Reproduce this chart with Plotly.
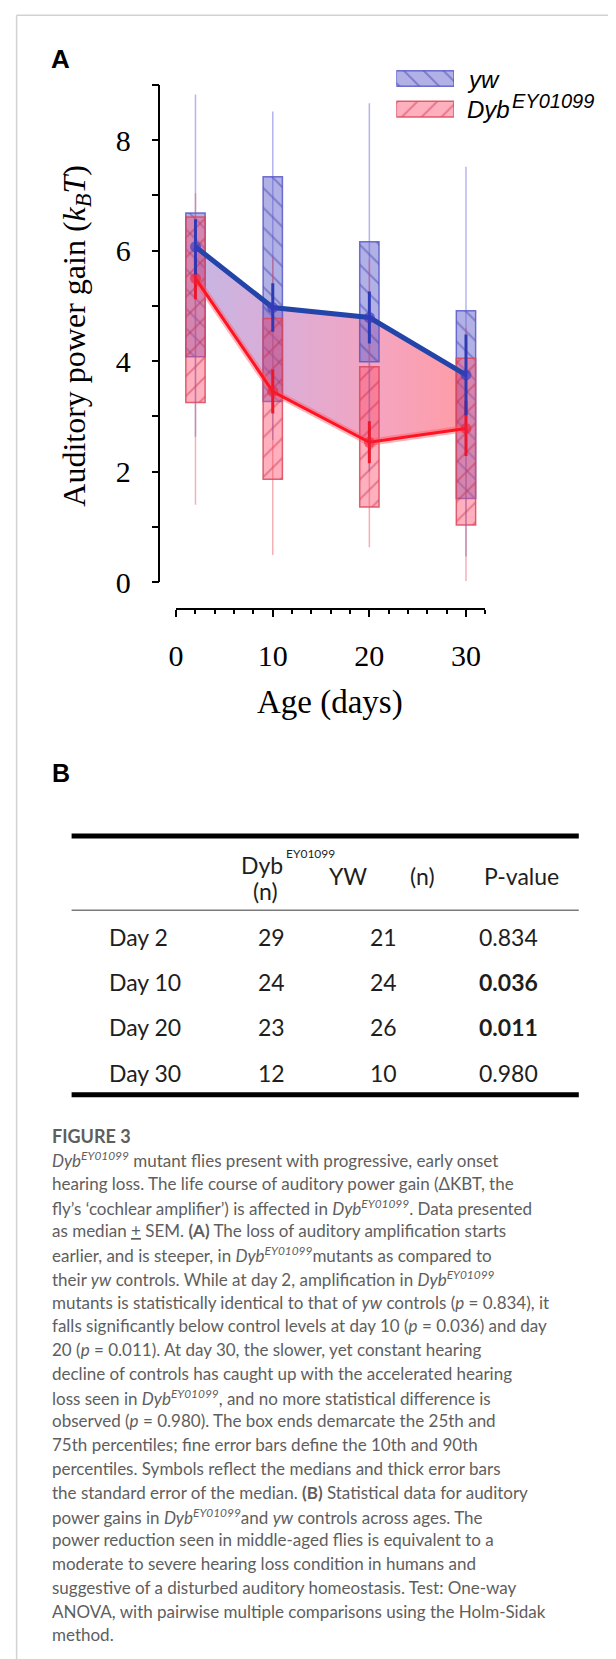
import plotly.graph_objects as go

W, H = 616, 1659

# ---------------- data ----------------
days = [2, 10, 20, 30]

yw_p10 = [2.63, 2.57, 2.00, 0.46]
yw_q25 = [4.08, 3.27, 3.99, 1.51]
yw_med = [6.07, 4.97, 4.79, 3.75]
yw_q75 = [6.68, 7.34, 6.16, 4.91]
yw_p90 = [8.83, 8.52, 8.67, 7.52]
yw_sem = [0.50, 0.44, 0.47, 0.73]

dyb_p10 = [1.40, 0.49, 0.63, 0.02]
dyb_q25 = [3.25, 1.86, 1.36, 1.03]
dyb_med = [5.50, 3.45, 2.53, 2.78]
dyb_q75 = [6.61, 4.77, 3.90, 4.05]
dyb_p90 = [7.04, 5.89, 5.84, 4.60]
dyb_sem = [0.38, 0.40, 0.38, 0.50]

series_names = ["yw", "Dyb"]

table_rows = ["Day 2", "Day 10", "Day 20", "Day 30"]
table_dyb_n = [29, 24, 23, 12]
table_yw_n = [21, 24, 26, 10]
table_p = ["0.834", "0.036", "0.011", "0.980"]
table_sig = [False, True, True, False]

caption_lines = [
    "<i>Dyb<sup>EY01099</sup></i> mutant flies present with progressive, early onset",
    "hearing loss. The life course of auditory power gain (ΔKBT, the",
    "fly’s ‘cochlear amplifier’) is affected in <i>Dyb<sup>EY01099</sup></i>. Data presented",
    "as median <u>+</u> SEM. <b>(A)</b> The loss of auditory amplification starts",
    "earlier, and is steeper, in <i>Dyb<sup>EY01099</sup></i>mutants as compared to",
    "their <i>yw</i> controls. While at day 2, amplification in <i>Dyb<sup>EY01099</sup></i>",
    "mutants is statistically identical to that of <i>yw</i> controls (<i>p</i> = 0.834), it",
    "falls significantly below control levels at day 10 (<i>p</i> = 0.036) and day",
    "20 (<i>p</i> = 0.011). At day 30, the slower, yet constant hearing",
    "decline of controls has caught up with the accelerated hearing",
    "loss seen in <i>Dyb<sup>EY01099</sup></i>, and no more statistical difference is",
    "observed (<i>p</i> = 0.980). The box ends demarcate the 25th and",
    "75th percentiles; fine error bars define the 10th and 90th",
    "percentiles. Symbols reflect the medians and thick error bars",
    "the standard error of the median. <b>(B)</b> Statistical data for auditory",
    "power gains in <i>Dyb<sup>EY01099</sup></i>and <i>yw</i> controls across ages. The",
    "power reduction seen in middle-aged flies is equivalent to a",
    "moderate to severe hearing loss condition in humans and",
    "suggestive of a disturbed auditory homeostasis. Test: One-way",
    "ANOVA, with pairwise multiple comparisons using the Holm-Sidak",
    "method.",
]

# ---------------- helpers ----------------
def px(xp):
    return xp / W


def py(yp):
    return 1 - yp / H


def segments(xs, lo, hi):
    X, Y = [], []
    for x, a, b in zip(xs, lo, hi):
        X += [x, x, None]
        Y += [a, b, None]
    return X, Y


SERIF = "Liberation Serif"
SANS = "Liberation Sans"
TABF = "Lato"

BLUE_LINE = "rgb(35,68,168)"
RED_LINE = "rgb(255,20,35)"

fig = go.Figure()

# ---- gradient fill between median curves (base subplot) ----
fig.add_trace(go.Scatter(x=days, y=dyb_med, mode="lines", line=dict(width=0),
                         showlegend=False, hoverinfo="skip"))
fig.add_trace(go.Scatter(
    x=days, y=yw_med, mode="lines", line=dict(width=0), fill="tonexty",
    fillgradient=dict(type="horizontal", colorscale=[
        [0, "rgb(198,182,228)"], [0.35, "rgb(222,172,212)"],
        [0.7, "rgb(245,164,190)"], [1, "rgb(255,156,165)"]]),
    showlegend=False, hoverinfo="skip"))

# ---- boxes (overlay subplot) ----
blue_marker = dict(color="rgba(100,100,205,0.5)",
                   line=dict(color="rgba(80,80,200,0.8)", width=1.5),
                   pattern=dict(shape="\\", fgcolor="rgba(55,55,165,0.85)", size=14,
                                solidity=0.14, fillmode="overlay"))
red_marker = dict(color="rgba(255,80,110,0.45)",
                  line=dict(color="rgba(220,70,90,0.85)", width=1.5),
                  pattern=dict(shape="/", fgcolor="rgba(195,35,60,0.8)", size=14,
                               solidity=0.14, fillmode="overlay"))

fig.add_trace(go.Bar(x=days, y=[b - a for a, b in zip(yw_q25, yw_q75)], base=yw_q25,
                     width=2, marker=blue_marker, xaxis="x3", yaxis="y3",
                     showlegend=False, hoverinfo="skip"))
fig.add_trace(go.Bar(x=days, y=[b - a for a, b in zip(dyb_q25, dyb_q75)], base=dyb_q25,
                     width=2, marker=red_marker, xaxis="x3", yaxis="y3",
                     showlegend=False, hoverinfo="skip"))

# ---- 10th/90th percentile whiskers ----
wx, wy = segments(days, yw_p10, yw_p90)
fig.add_trace(go.Scatter(x=wx, y=wy, mode="lines",
                         line=dict(color="rgba(90,90,210,0.45)", width=1.5),
                         xaxis="x3", yaxis="y3", showlegend=False, hoverinfo="skip"))
wx, wy = segments(days, dyb_p10, dyb_p90)
fig.add_trace(go.Scatter(x=wx, y=wy, mode="lines",
                         line=dict(color="rgba(230,80,95,0.45)", width=1.5),
                         xaxis="x3", yaxis="y3", showlegend=False, hoverinfo="skip"))

# ---- median lines ----
fig.add_trace(go.Scatter(x=days, y=dyb_med, mode="lines",
                         line=dict(color="rgba(255,90,100,0.45)", width=7),
                         xaxis="x3", yaxis="y3", showlegend=False, hoverinfo="skip"))
fig.add_trace(go.Scatter(x=days, y=dyb_med, mode="lines",
                         line=dict(color=RED_LINE, width=3),
                         xaxis="x3", yaxis="y3", showlegend=False, hoverinfo="skip"))
fig.add_trace(go.Scatter(x=days, y=yw_med, mode="lines",
                         line=dict(color=BLUE_LINE, width=5),
                         xaxis="x3", yaxis="y3", showlegend=False, hoverinfo="skip"))

# ---- medians + SEM (thick error bars) ----
fig.add_trace(go.Scatter(x=days, y=dyb_med, mode="markers",
                         marker=dict(color="rgba(240,30,55,0.6)", size=11),
                         error_y=dict(type="data", array=dyb_sem, visible=True,
                                      thickness=3, width=0, color="rgba(235,20,40,0.95)"),
                         xaxis="x3", yaxis="y3", showlegend=False, hoverinfo="skip"))
fig.add_trace(go.Scatter(x=days, y=yw_med, mode="markers",
                         marker=dict(color="rgba(55,60,190,0.65)", size=11),
                         error_y=dict(type="data", array=yw_sem, visible=True,
                                      thickness=3, width=0, color="rgba(40,55,180,0.95)"),
                         xaxis="x3", yaxis="y3", showlegend=False, hoverinfo="skip"))

# ---- detached x axis (own subplot) ----
fig.add_trace(go.Scatter(x=days, y=[None] * len(days), mode="markers",
                         xaxis="x2", yaxis="y2", showlegend=False, hoverinfo="skip"))

# ---- legend swatches (own subplot) ----
fig.add_trace(go.Bar(x=[1], y=[series_names[0]], orientation="h", width=0.51,
                     marker=blue_marker, xaxis="x4", yaxis="y4",
                     showlegend=False, hoverinfo="skip"))
fig.add_trace(go.Bar(x=[1], y=[series_names[1]], orientation="h", width=0.51,
                     marker=red_marker, xaxis="x4", yaxis="y4",
                     showlegend=False, hoverinfo="skip"))

# ---------------- layout ----------------
x_dom = [px(152.4), px(477.3)]
y_dom = [py(574), py(77)]
x_rng = [-1.63, 32]

tickfont = dict(family=SERIF, size=30, color="black")

fig.update_layout(
    width=W, height=H, margin=dict(l=0, r=0, t=0, b=0),
    template="none", paper_bgcolor="white", plot_bgcolor="rgba(0,0,0,0)",
    barmode="overlay", showlegend=False,
    xaxis=dict(domain=x_dom, range=x_rng, visible=False, anchor="y"),
    yaxis=dict(domain=y_dom, range=[0, 9], anchor="x", showgrid=False, zeroline=False,
               showline=True, linecolor="black", linewidth=1.5,
               ticks="outside", ticklen=7, tickwidth=1.5, tickcolor="black",
               tick0=0, dtick=2, tickfont=tickfont, ticklabelstandoff=15,
               minor=dict(dtick=1, ticks="outside", ticklen=7, tickwidth=1.5,
                          tickcolor="black", showgrid=False)),
    xaxis3=dict(overlaying="x", range=x_rng, visible=False, anchor="y3"),
    yaxis3=dict(overlaying="y", range=[0, 9], visible=False, anchor="x3"),
    xaxis2=dict(domain=[px(168.1), px(477.3)], range=[0, 32], anchor="y2",
                showgrid=False, zeroline=False, showline=True, linecolor="black",
                linewidth=1.5, ticks="outside", ticklen=7, tickwidth=1.5,
                tickcolor="black", tick0=0, dtick=10, tickfont=tickfont,
                ticklabelstandoff=13,
                minor=dict(dtick=2, ticks="outside", ticklen=4.5, tickwidth=1.5,
                           tickcolor="black", showgrid=False)),
    yaxis2=dict(domain=[py(600), py(600) + 0.001], range=[0, 1], visible=False,
                anchor="x2"),
    xaxis4=dict(domain=[px(388.3), px(446)], range=[0, 1], visible=False, anchor="y4"),
    yaxis4=dict(domain=[py(116.55), py(55.15)], range=[-0.5, 1.5], visible=False,
                type="category", categoryorder="array",
                categoryarray=[series_names[1], series_names[0]], anchor="x4"),
)

ann = []


def add_text(text, x, y, size, family=SANS, color="black", xanchor="center",
             yanchor="middle", angle=0):
    ann.append(dict(text=text, x=px(x), y=py(y), xref="paper", yref="paper",
                    showarrow=False, xanchor=xanchor, yanchor=yanchor,
                    textangle=angle, font=dict(family=family, size=size, color=color)))


# panel labels
add_text("<b>A</b>", 52.6, 51, 26)
add_text("<b>B</b>", 52.6, 765, 25)

# axis titles
add_text("Auditory power gain (<i>k</i><sub><i>B</i></sub><i>T</i>)", 68.7, 328, 32,
         family=SERIF, angle=-90)
add_text("Age (days)", 322, 695, 33, family=SERIF)

# legend texts
add_text("<i>yw</i>", 457, 71, 24, xanchor="left")
add_text("<i>Dyb</i>", 457, 102, 24, xanchor="left")
add_text("<i>EY01099</i>", 502, 93, 20, xanchor="left")

# table header
TC = "#1e1e1e"
add_text("Dyb", 254.4, 856.7, 23, family=TABF, color=TC)
add_text("EY01099", 275.5, 845, 12, family=TABF, color=TC, xanchor="left")
add_text("(n)", 257.5, 883.3, 23, family=TABF, color=TC)
add_text("YW", 340, 868.3, 23, family=TABF, color=TC)
add_text("(n)", 414.5, 868.3, 23, family=TABF, color=TC)
add_text("P-value", 513, 868.3, 23, family=TABF, color=TC)

row_y = [928.5, 973.5, 1019.3, 1065]
for r, dn, yn, p, s, yy in zip(table_rows, table_dyb_n, table_yw_n, table_p, table_sig, row_y):
    add_text(r, 98.5, yy, 23, family=TABF, color=TC, xanchor="left")
    add_text(str(dn), 263, yy, 23, family=TABF, color=TC)
    add_text(str(yn), 375, yy, 23, family=TABF, color=TC)
    add_text(f"<b>{p}</b>" if s else p, 500, yy, 23, family=TABF, color=TC)

# caption
CAP_COLOR = "#5e5e5e"
add_text("<b>FIGURE 3</b>", 41.5, 1128.3, 18, family=TABF, color=CAP_COLOR, xanchor="left")
for i, line in enumerate(caption_lines):
    add_text(line, 41.5, 1151.5 + i * 23.77, 17, family=TABF, color=CAP_COLOR,
             xanchor="left")

fig.update_layout(annotations=ann)

# decorative frame + table rules
shapes = [
    dict(type="line", xref="paper", yref="paper", x0=px(8.6), x1=1, y0=py(7.3), y1=py(7.3),
         line=dict(color="#d2d2d2", width=1.5)),
    dict(type="line", xref="paper", yref="paper", x0=px(8.6), x1=px(8.6), y0=py(7.3), y1=0,
         line=dict(color="#d2d2d2", width=1.5)),
    dict(type="line", xref="paper", yref="paper", x0=px(63.6), x1=px(570.8),
         y0=py(828), y1=py(828), line=dict(color="black", width=5)),
    dict(type="line", xref="paper", yref="paper", x0=px(63.6), x1=px(570.8),
         y0=py(902.3), y1=py(902.3), line=dict(color="#7a7a7a", width=1.5)),
    dict(type="line", xref="paper", yref="paper", x0=px(63.6), x1=px(570.8),
         y0=py(1086.7), y1=py(1086.7), line=dict(color="black", width=5)),
]
fig.update_layout(shapes=shapes)

fig.write_html("out.html")
